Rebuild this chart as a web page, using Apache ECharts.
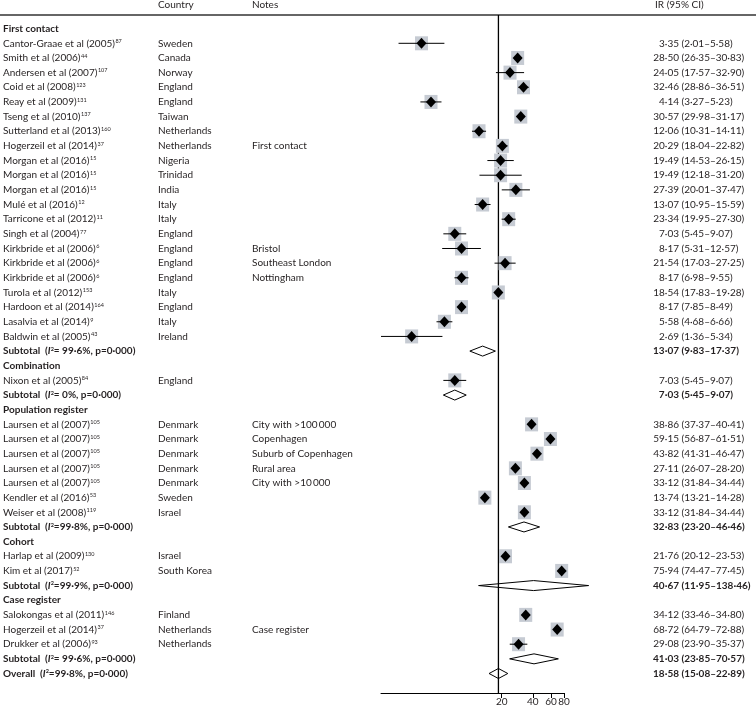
<!DOCTYPE html>
<html><head><meta charset="utf-8">
<script src="https://cdn.jsdelivr.net/npm/echarts@6.0.0/dist/echarts.min.js"></script>
<style>html,body{margin:0;padding:0;background:#fff}#c{width:756px;height:710px}</style>
</head><body><div id="c"></div>
<script>
// ---- data ----
const rowKind = ['group',
  'study','study','study','study','study','study','study','study','study','study','study','study','study','study','study','study','study','study','study','study','study',
  'sub','group','study','sub','group',
  'study','study','study','study','study','study','study',
  'sub','group','study','study','sub','group','study','study','study','sub','overall'];
const rowLabel = ['First contact',
  'Cantor-Graae et al (2005)','Smith et al (2006)','Andersen et al (2007)','Coid et al (2008)','Reay et al (2009)',
  'Tseng et al (2010)','Sutterland et al (2013)','Hogerzeil et al (2014)','Morgan et al (2016)','Morgan et al (2016)',
  'Morgan et al (2016)','Mulé et al (2016)','Tarricone et al (2012)','Singh et al (2004)','Kirkbride et al (2006)',
  'Kirkbride et al (2006)','Kirkbride et al (2006)','Turola et al (2012)','Hardoon et al (2014)','Lasalvia et al (2014)',
  'Baldwin et al (2005)','Subtotal','Combination','Nixon et al (2005)','Subtotal','Population register',
  'Laursen et al (2007)','Laursen et al (2007)','Laursen et al (2007)','Laursen et al (2007)','Laursen et al (2007)',
  'Kendler et al (2016)','Weiser et al (2008)','Subtotal','Cohort','Harlap et al (2009)','Kim et al (2017)','Subtotal',
  'Case register','Salokongas et al (2011)','Hogerzeil et al (2014)','Drukker et al (2006)','Subtotal','Overall'];
const rowRef = ['', '87','44','107','123','131','137','160','37','15','15','15','12','11','77','6','6','6','153','164','9','43',
  '', '', '84', '', '', '105','105','105','105','105','53','119', '', '', '130','52', '', '', '146','37','93', '', ''];
const country = ['', 'Sweden','Canada','Norway','England','England','Taiwan','Netherlands','Netherlands','Nigeria','Trinidad',
  'India','Italy','Italy','England','England','England','England','Italy','England','Italy','Ireland',
  '', '', 'England', '', '', 'Denmark','Denmark','Denmark','Denmark','Denmark','Sweden','Israel',
  '', '', 'Israel','South Korea', '', '', 'Finland','Netherlands','Netherlands', '', ''];
const notes = ['', '', '', '', '', '', '', '', 'First contact', '', '', '', '', '', '', 'Bristol', 'Southeast London', 'Nottingham',
  '', '', '', '', '', '', '', '', '', 'City with >100\u2009000', 'Copenhagen', 'Suburb of Copenhagen', 'Rural area', 'City with >10\u2009000',
  '', '', '', '', '', '', '', '', '', 'Case register', '', '', ''];
const hetI2 = {22: '= 99·6%', 25: '= 0%', 34: '=99·8%', 38: '=99·9%', 43: '= 99·6%', 44: '=99·8%'};
const hetP = '0·000';
const ir = [null, 3.35, 28.50, 24.05, 32.46, 4.14, 30.57, 12.06, 20.29, 19.49, 19.49, 27.39, 13.07, 23.34, 7.03, 8.17, 21.54, 8.17,
  18.54, 8.17, 5.58, 2.69, 13.07, null, 7.03, 7.03, null, 38.86, 59.15, 43.82, 27.11, 33.12, 13.74, 33.12, 32.83, null,
  21.76, 75.94, 40.67, null, 34.12, 68.72, 29.08, 41.03, 18.58];
const ciLow = [null, 2.01, 26.35, 17.57, 28.86, 3.27, 29.98, 10.31, 18.04, 14.53, 12.18, 20.01, 10.95, 19.95, 5.45, 5.31, 17.03, 6.98,
  17.83, 7.85, 4.68, 1.36, 9.83, null, 5.45, 5.45, null, 37.37, 56.87, 41.31, 26.07, 31.84, 13.21, 31.84, 23.20, null,
  20.12, 74.47, 11.95, null, 33.46, 64.79, 23.90, 23.85, 15.08];
const ciHigh = [null, 5.58, 30.83, 32.90, 36.51, 5.23, 31.17, 14.11, 22.82, 26.15, 31.20, 37.47, 15.59, 27.30, 9.07, 12.57, 27.25, 9.55,
  19.28, 8.49, 6.66, 5.34, 17.37, null, 9.07, 9.07, null, 40.41, 61.51, 46.47, 28.20, 34.44, 14.28, 34.44, 46.46, null,
  23.53, 77.45, 138.46, null, 34.80, 72.88, 35.37, 70.57, 22.89];
const xTicks = [20, 40, 60, 80];

// ---- helpers ----
const ln = Math.log;
const fmt = v => v.toFixed(2).replace('.', '·');
const FONT = 'Lato';
const INK = '#231f20';
const FS = 10;
const rowIdx = rowLabel.map((_, i) => String(i));
const isBold = i => rowKind[i] === 'group' || rowKind[i] === 'sub' || rowKind[i] === 'overall';
const overallIdx = rowKind.indexOf('overall');

const rich = {
  n: {fontFamily: FONT, fontSize: FS, color: INK},
  s: {fontFamily: FONT, fontSize: 5.5, color: INK, verticalAlign: 'top', padding: [0, 0, 0, 0.5]},
  b: {fontFamily: FONT, fontSize: FS, color: INK, fontWeight: 'bold'},
  bi: {fontFamily: FONT, fontSize: FS, color: INK, fontWeight: 'bold', fontStyle: 'italic'},
  bs: {fontFamily: FONT, fontSize: 5.5, color: INK, fontWeight: 'bold', verticalAlign: 'top'}
};
function nameLabel(i) {
  const k = rowKind[i];
  if (k === 'group') return '{b|' + rowLabel[i] + '}';
  if (k === 'study') return '{n|' + rowLabel[i] + '}{s|' + rowRef[i] + '}';
  return '{b|' + rowLabel[i] + '  (}{bi|I}{bs|2}{b|' + hetI2[i] + ', p=' + hetP + ')}';
}
function txt(i, s) { return s ? (isBold(i) ? '{b|' + s + '}' : '{n|' + s + '}') : ''; }

const GL = 381, GR = 756 - 564;
const ROW0 = 28.65, ROWH = 14.656, NR = rowLabel.length;

function labelAxis(position, margin, align, formatter) {
  return {
    type: 'category', gridIndex: 0, inverse: true, position: position, data: rowIdx,
    axisLine: {show: false}, axisTick: {show: false}, splitLine: {show: false},
    axisLabel: {interval: 0, hideOverlap: false, margin: margin, align: align, formatter: formatter,
      rich: rich, fontFamily: FONT, fontSize: FS, color: INK}
  };
}

const studyData = [], pooledData = [];
rowKind.forEach((k, i) => {
  if (ir[i] == null) return;
  const d = [ln(ciLow[i]), ln(ciHigh[i]), ln(ir[i]), i];
  if (k === 'study') studyData.push(d); else pooledData.push(d);
});
const xMin = ln(Math.min(...ciLow.filter(v => v != null)));
const xMax = ln(xTicks[xTicks.length - 1]);

const chart = echarts.init(document.getElementById('c'), null, {renderer: 'canvas'});
chart.setOption({
  animation: false,
  backgroundColor: '#fff',
  grid: [
    {left: GL, right: GR, top: ROW0 - ROWH / 2, height: ROWH * NR, outerBoundsMode: 'none', containLabel: false},
    {left: GL, right: GR, top: 15, bottom: 710 - 693, outerBoundsMode: 'none', containLabel: false}
  ],
  xAxis: [
    {type: 'value', gridIndex: 0, min: xMin, max: xMax, show: false},
    {type: 'value', gridIndex: 1, min: xMin, max: xMax, position: 'bottom',
      axisLine: {show: true, lineStyle: {color: '#000', width: 1}},
      axisTick: {show: true, customValues: xTicks.map(ln), length: 5, inside: false, lineStyle: {color: '#000', width: 1}},
      axisLabel: {customValues: xTicks.map(ln), hideOverlap: false, margin: 4, fontFamily: FONT, fontSize: FS, color: INK,
        formatter: v => String(Math.round(Math.exp(v)))},
      splitLine: {show: false}}
  ],
  yAxis: [
    labelAxis('left', GL - 3, 'left', (v, i) => nameLabel(i)),
    labelAxis('left', GL - 158, 'left', (v, i) => txt(i, country[i])),
    labelAxis('left', GL - 252, 'left', (v, i) => txt(i, notes[i])),
    labelAxis('right', 679 - 564, 'right', (v, i) => txt(i, ir[i] == null ? '' : fmt(ir[i]))),
    labelAxis('right', 681.5 - 564, 'left', (v, i) => txt(i, ir[i] == null ? '' : '(' + fmt(ciLow[i]) + '–' + fmt(ciHigh[i]) + ')')),
    {type: 'value', gridIndex: 1, min: 0, max: 1, show: false}
  ],
  graphic: [
    {type: 'line', shape: {x1: 0, y1: 15, x2: 756, y2: 15}, style: {stroke: '#333', lineWidth: 1.5}, silent: true},
    {type: 'text', x: 158, y: 5, style: {text: 'Country', font: FS + 'px ' + FONT, fill: INK, textAlign: 'left', textVerticalAlign: 'middle'}},
    {type: 'text', x: 252, y: 5, style: {text: 'Notes', font: FS + 'px ' + FONT, fill: INK, textAlign: 'left', textVerticalAlign: 'middle'}},
    {type: 'text', x: 655, y: 5, style: {text: 'IR (95% CI)', font: FS + 'px ' + FONT, fill: INK, textAlign: 'left', textVerticalAlign: 'middle'}}
  ],
  series: [
    {type: 'line', xAxisIndex: 1, yAxisIndex: 5, symbol: 'none', silent: true, z: 1,
      data: [[ln(ir[overallIdx]), 0], [ln(ir[overallIdx]), 1]],
      lineStyle: {color: '#000', width: 1.3}},
    {type: 'custom', coordinateSystem: 'cartesian2d', xAxisIndex: 0, yAxisIndex: 0, z: 3, silent: true,
      data: studyData, encode: {x: [0, 1, 2], y: 3},
      renderItem: function (params, api) {
        const y = api.value(3);
        const a = api.coord([api.value(0), y]);
        const b = api.coord([api.value(1), y]);
        const c = api.coord([api.value(2), y]);
        return {type: 'group', children: [
          {type: 'rect', shape: {x: c[0] - 6.5, y: c[1] - 7, width: 13, height: 14}, style: {fill: '#c6cbd3'}},
          {type: 'line', shape: {x1: a[0], y1: a[1], x2: b[0], y2: b[1]}, style: {stroke: '#000', lineWidth: 1}},
          {type: 'polygon', shape: {points: [[c[0] - 5, c[1]], [c[0], c[1] - 5.5], [c[0] + 5, c[1]], [c[0], c[1] + 5.5]]}, style: {fill: '#000'}}
        ]};
      }},
    {type: 'custom', coordinateSystem: 'cartesian2d', xAxisIndex: 0, yAxisIndex: 0, z: 3, silent: true,
      data: pooledData, encode: {x: [0, 1, 2], y: 3},
      renderItem: function (params, api) {
        const y = api.value(3);
        const a = api.coord([api.value(0), y]);
        const b = api.coord([api.value(1), y]);
        const c = api.coord([api.value(2), y]);
        return {type: 'polygon', shape: {points: [[a[0], a[1]], [c[0], c[1] - 5], [b[0], b[1]], [c[0], c[1] + 5]]},
          style: {fill: 'none', stroke: '#000', lineWidth: 1}};
      }}
  ]
});
</script>
</body></html>
